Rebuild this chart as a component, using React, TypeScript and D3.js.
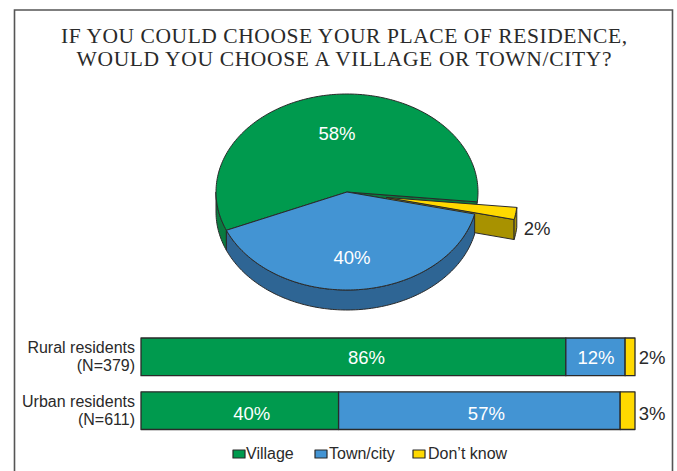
import React from "react";
import * as d3 from "d3";

const titleLines = ["IF YOU COULD CHOOSE YOUR PLACE OF RESIDENCE,", "WOULD YOU CHOOSE A VILLAGE OR TOWN/CITY?"];
const categories = ["Village", "Town/city", "Don’t know"];
const colors = ["#009a4e", "#4394d3", "#ffd900"];
const sideColors = ["#0a7a3f", "#2e6594", "#a89200"];

// The pie is laid out clockwise: village, don't know, town/city.
const pieOrder = [0, 2, 1];
const pieShares = [58, 40, 2];
const pieLabels = ["58%", "40%", "2%"];

const rowNames = [["Rural residents", "(N=379)"], ["Urban residents", "(N=611)"]];
const ruralShares = [86, 12, 2];
const urbanShares = [40, 57, 3];
const rowShares = [ruralShares, urbanShares];

const INK = "#2a2a2a";
const cx = 347;
const cy = 192;
const rx = 131;
const ry = 98;
const depth = 20;
const explode = 40;
const pieStart = (-113 * Math.PI) / 180;

const project = (a: number, r = 1, dx = 0, dy = 0): [number, number] => [
  cx + dx + rx * r * Math.sin(a),
  cy + dy - ry * r * Math.cos(a),
];

const sweep = (a0: number, a1: number) => {
  const n = Math.max(2, Math.ceil(Math.abs(a1 - a0) / 0.02));
  return d3.range(n + 1).map((i) => a0 + ((a1 - a0) * i) / n);
};

const line = d3.line();

function facePath(a0: number, a1: number, dx = 0, dy = 0) {
  const pts = sweep(a0, a1).map((a) => project(a, 1, dx, dy));
  return line([[cx + dx, cy + dy], ...pts])! + "Z";
}

function wallPath(a0: number, a1: number, dx = 0, dy = 0) {
  const top = sweep(a0, a1).map((a) => project(a, 1, dx, dy));
  const bottom = [...top].reverse().map(([x, y]) => [x, y + depth] as [number, number]);
  return line([...top, ...bottom])! + "Z";
}

function edgeWall(a: number, dx: number, dy: number) {
  const [x, y] = project(a, 1, dx, dy);
  const p: [number, number][] = [[cx + dx, cy + dy], [x, y], [x, y + depth], [cx + dx, cy + dy + depth]];
  return line(p)! + "Z";
}

export default function App() {
  const pie = d3.pie<number>().sort(null).startAngle(pieStart).endAngle(pieStart + 2 * Math.PI);
  const arcs = pie(pieOrder.map((i) => pieShares[i]));
  const byCategory = (i: number) => arcs[pieOrder.indexOf(i)];

  const village = byCategory(0);
  const town = byCategory(1);
  const unsure = byCategory(2);
  const mid = (unsure.startAngle + unsure.endAngle) / 2;
  const ex = explode * Math.sin(mid);
  const ey = 5.5;

  const x = d3.scaleLinear().domain([0, 100]).range([141, 635]);
  const y = d3.scaleBand().domain(["0", "1"]).range([338, 429.5]).paddingInner(0.3);

  const legendX = [233, 315, 413];
  const legendTextX = [246, 329, 428];
  const labelDrop = [7, 9];
  // Value labels sit a little right of their segment centres.
  const labelShift = [[13, 0.5, 17], [12, 7, 17]];
  const stroke = { stroke: INK, strokeWidth: 1, strokeLinejoin: "round" as const };

  return (
    <svg
      width={677}
      height={471}
      style={{ position: "absolute", left: 0, top: 0, background: "#fff" }}
      fontFamily="'Liberation Sans', Arial, sans-serif"
    >
      <path d="M14.5 471V10H672.5V471" fill="none" stroke="#555" strokeWidth={1.6} />

      <g fontFamily="'Liberation Serif', serif" fontSize={21.5} fill={INK} textAnchor="middle">
        {titleLines.map((t, i) => (
          <text key={t} x={344} y={43 + i * 23} textLength={i === 0 ? 566 : 535} lengthAdjust="spacing">
            {t}
          </text>
        ))}
      </g>

      {/* Extruded walls go down first, then the top faces cover them. */}
      <path d={wallPath(-Math.PI / 2, pieStart)} fill={sideColors[0]} {...stroke} />
      <path d={facePath(unsure.startAngle, unsure.endAngle)} fill={sideColors[0]} {...stroke} />
      <path d={facePath(village.startAngle, village.endAngle)} fill={colors[0]} {...stroke} />
      <path d={edgeWall(unsure.endAngle, ex, ey)} fill={sideColors[2]} {...stroke} />
      <path d={wallPath(unsure.startAngle, unsure.endAngle, ex, ey)} fill={sideColors[2]} {...stroke} />
      <path d={facePath(unsure.startAngle, unsure.endAngle, ex, ey)} fill={colors[2]} {...stroke} />
      <path d={wallPath(town.startAngle, town.endAngle)} fill={sideColors[1]} {...stroke} />
      <path d={facePath(town.startAngle, town.endAngle)} fill={colors[1]} {...stroke} />

      <g fontSize={18.5} textAnchor="middle">
        <text x={337} y={140} fill="#fff">{pieLabels[0]}</text>
        <text x={352} y={264} fill="#fff">{pieLabels[1]}</text>
        <text x={537} y={235} fill={INK}>{pieLabels[2]}</text>
      </g>

      {rowShares.map((shares, r) => {
        const stack = d3.cumsum(shares);
        const top = y(String(r))!;
        const h = y.bandwidth();
        return (
          <g key={r}>
            {shares.map((s, i) => {
              const x0 = x(stack[i] - s);
              const x1 = x(stack[i]);
              const small = s < 5;
              return (
                <g key={i}>
                  <rect x={x0} y={top} width={x1 - x0} height={h} fill={colors[i]} {...stroke} strokeWidth={1.3} />
                  <text
                    x={(small ? x1 : (x0 + x1) / 2) + labelShift[r][i]}
                    y={top + h / 2 + labelDrop[r]}
                    fontSize={18.5}
                    textAnchor="middle"
                    fill={small ? INK : "#fff"}
                  >
                    {s}%
                  </text>
                </g>
              );
            })}
            <g fontSize={16} fill={INK} textAnchor="end">
              <text x={135} y={top + 15}>{rowNames[r][0]}</text>
              <text x={135} y={top + 33}>{rowNames[r][1]}</text>
            </g>
          </g>
        );
      })}

      {categories.map((c, i) => (
        <g key={c}>
          <rect x={legendX[i]} y={450} width={12} height={8} fill={colors[i]} {...stroke} strokeWidth={1.2} />
          <text x={legendTextX[i]} y={459} fontSize={16} fill={INK}>{c}</text>
        </g>
      ))}
    </svg>
  );
}
